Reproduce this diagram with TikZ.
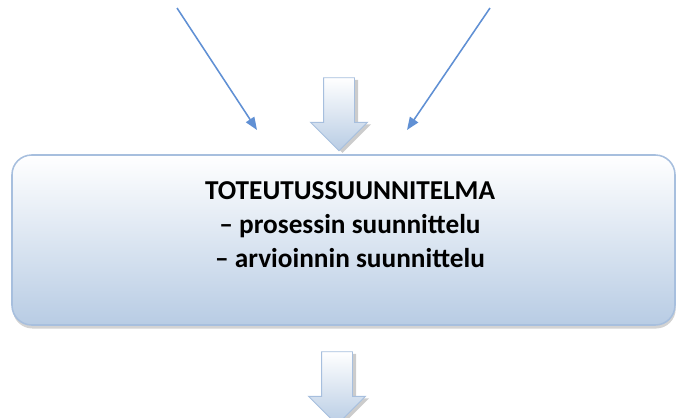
\documentclass[tikz,border=0pt]{standalone}
\usepackage{fontspec}
\setmainfont{Carlito}
\usepackage{tikz}
\usetikzlibrary{positioning,shapes,shapes.arrows,shadows,arrows.meta}
\definecolor{boxblue}{RGB}{184,204,228}
\definecolor{edgeblue}{RGB}{167,191,222}
\definecolor{lineblue}{RGB}{96,144,212}
\definecolor{tipblue}{RGB}{74,126,200}
\tikzstyle{planbox}=[rectangle, rounded corners=14pt, draw=edgeblue, line width=1.1pt, top color=white, bottom color=boxblue, minimum width=663*0.025cm, minimum height=170*0.025cm, drop shadow={shadow xshift=0.5pt, shadow yshift=-2.5pt, opacity=0.35}]
\tikzstyle{blockarrow}=[single arrow, shape border rotate=270, draw=edgeblue, line width=0.7pt, top color=white, bottom color=boxblue, inner xsep=15*0.025cm, inner ysep=0pt, single arrow head extend=13*0.025cm, single arrow tip angle=90, minimum height=73*0.025cm, drop shadow={shadow xshift=2.5pt, shadow yshift=-1.5pt, opacity=0.4}]
\tikzstyle{title}=[font=\fontsize{19.4}{24.2}\selectfont\bfseries, text=black, align=center]
\tikzset{>={Triangle[length=9pt,width=7pt]}}

\begin{document}
\begin{tikzpicture}[x=0.025cm, y=-0.025cm]
        \useasboundingbox (0,0) rectangle (678,417);

        \node(plan)[planbox] at (343.5,240) {};
        \node(plantext)[title] at (350,225) {
            TOTEUTUSSUUNNITELMA\\
            -- prosessin suunnittelu\\
            -- arvioinnin suunnittelu
        };

        \node(inarrow)[blockarrow] at (339,106.5) {};
        \node(outarrow)[blockarrow] at (337,380.5) {};

        \coordinate(leftstart) at (177,8);
        \coordinate(leftend) at (257,130);
        \coordinate(rightstart) at (490,8);
        \coordinate(rightend) at (407,130);

        \draw[->, draw=lineblue, fill=tipblue, line width=1.1pt] (leftstart) -- (leftend);
        \draw[->, draw=lineblue, fill=tipblue, line width=1.1pt] (rightstart) -- (rightend);
\end{tikzpicture}
\end{document}
